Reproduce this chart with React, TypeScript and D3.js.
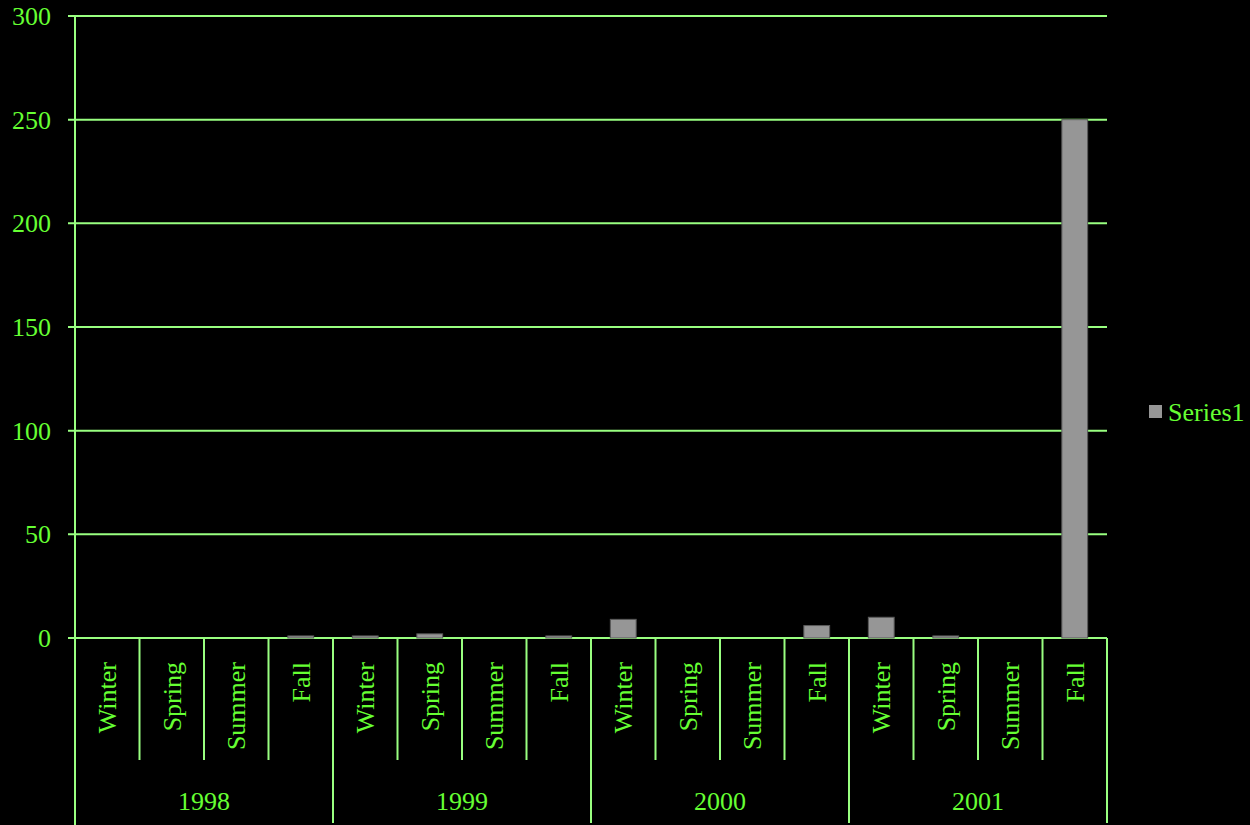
import React from "react";
import * as d3 from "d3";

// seasonal counts, one value per season per year
const years: string[] = ["1998", "1999", "2000", "2001"];
const seasons: string[] = ["Winter", "Spring", "Summer", "Fall"];
const series1: number[] = [0, 0, 0, 1, 1, 2, 0, 1, 9, 0, 0, 6, 10, 1, 0, 250];
const yTicks: number[] = [0, 50, 100, 150, 200, 250, 300];
const seriesName = "Series1";

const width = 1250;
const height = 825;
const margin = { top: 16, right: 143, bottom: 187, left: 75 };

const lineColor = "#99ff80";
const textColor = "#66ff33";
const barColor = "#969696";
const font = "'Liberation Serif', 'Times New Roman', serif";

const App: React.FC = () => {
  const cats = years.flatMap((yr) => seasons.map((s) => `${yr}|${s}`));

  const x = d3
    .scaleBand<string>()
    .domain(cats)
    .range([margin.left, width - margin.right])
    .paddingInner(0.6)
    .paddingOuter(0.3);

  // band boundaries (no padding) for the axis ticks
  const xOuter = d3
    .scaleBand<string>()
    .domain(cats)
    .range([margin.left, width - margin.right]);

  const xYear = d3
    .scaleBand<string>()
    .domain(years)
    .range([margin.left, width - margin.right]);

  const y = d3
    .scaleLinear()
    .domain([0, 300])
    .range([height - margin.bottom, margin.top]);

  const y0 = y(0);
  const right = width - margin.right;

  return (
    <svg
      width={width}
      height={height}
      style={{ position: "absolute", left: 0, top: 0, background: "#000", display: "block" }}
      fontFamily={font}
    >
      <rect x={0} y={0} width={width} height={height} fill="#000" />

      {/* gridlines + y labels */}
      {yTicks.map((t) => (
        <g key={t}>
          <line x1={margin.left - 7} x2={right} y1={y(t)} y2={y(t)} stroke={lineColor} strokeWidth={2} />
          <text
            x={51}
            y={y(t)}
            dy="0.35em"
            textAnchor="end"
            fontSize={26}
            fill={textColor}
          >
            {t}
          </text>
        </g>
      ))}

      {/* bars */}
      {series1.map((v, i) =>
        v > 0 ? (
          <rect
            key={cats[i]}
            x={x(cats[i])}
            y={y(v)}
            width={x.bandwidth()}
            height={y0 - y(v)}
            fill={barColor}
            stroke="#5a5a5a"
            strokeWidth={1}
          />
        ) : null
      )}

      {/* vertical axis */}
      <line x1={margin.left} x2={margin.left} y1={margin.top} y2={height} stroke={lineColor} strokeWidth={2} />

      {/* category axis ticks */}
      {cats.map((c, i) => {
        const bx = (xOuter(c) as number) + xOuter.bandwidth();
        const yearEnd = i % seasons.length === seasons.length - 1;
        return (
          <line
            key={`t-${c}`}
            x1={bx}
            x2={bx}
            y1={y0}
            y2={yearEnd ? height - 2 : 760}
            stroke={lineColor}
            strokeWidth={2}
          />
        );
      })}

      {/* season labels */}
      {cats.map((c) => {
        const cx = (xOuter(c) as number) + xOuter.bandwidth() / 2;
        const ty = 662;
        return (
          <text
            key={`l-${c}`}
            transform={`translate(${cx},${ty}) rotate(-90)`}
            dy="0.35em"
            textAnchor="end"
            fontSize={26}
            fill={textColor}
          >
            {c.split("|")[1]}
          </text>
        );
      })}

      {/* year labels */}
      {years.map((yr) => (
        <text
          key={yr}
          x={(xYear(yr) as number) + xYear.bandwidth() / 2}
          y={801}
          dy="0.35em"
          textAnchor="middle"
          fontSize={26}
          fill={textColor}
        >
          {yr}
        </text>
      ))}

      {/* legend */}
      <rect x={1149} y={405} width={13} height={13} fill={barColor} />
      <text x={1168} y={412} dy="0.35em" fontSize={26} fill={textColor}>
        {seriesName}
      </text>
    </svg>
  );
};

export default App;
